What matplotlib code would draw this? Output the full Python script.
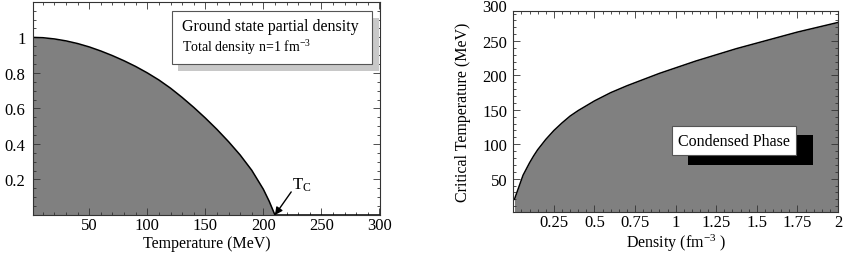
import numpy as np
import matplotlib
matplotlib.use("Agg")
import matplotlib.pyplot as plt
from matplotlib.patches import Rectangle
from matplotlib.ticker import MultipleLocator
import matplotlib.transforms as mtransforms

plt.rcParams['font.family'] = ['Liberation Serif', 'DejaVu Serif']
plt.rcParams['mathtext.fontset'] = 'custom'
plt.rcParams['mathtext.rm'] = 'Liberation Serif'
plt.rcParams['mathtext.it'] = 'Liberation Serif:italic'

# left panel: ground state partial density vs temperature (n = 1 fm^-3)
temperature = [0, 10, 20, 30, 40, 50, 60, 70, 80, 90, 100, 110, 120, 130,
               140, 150, 160, 170, 180, 190, 200, 205, 210]
partial_density = [1.0, 0.998, 0.991, 0.980, 0.965, 0.946, 0.923, 0.897, 0.868,
                   0.836, 0.800, 0.760, 0.714, 0.662, 0.606, 0.546, 0.482,
                   0.413, 0.338, 0.252, 0.145, 0.078, 0.0]
t_ticks = [50, 100, 150, 200, 250, 300]
p_ticks = [0.2, 0.4, 0.6, 0.8, 1.0]
p_tick_labels = ['0.2', '0.4', '0.6', '0.8', '1']
t_crit = 210

# right panel: critical temperature vs density
density = [0.007, 0.06, 0.08, 0.1, 0.125, 0.15, 0.2, 0.25, 0.3, 0.35, 0.4,
           0.5, 0.6, 0.7, 0.8, 0.9, 1.0, 1.125, 1.25, 1.375, 1.5, 1.625,
           1.75, 1.875, 2.0]
crit_temp = [20, 55, 64, 73, 83, 92, 107, 120, 131, 141, 149,
             163, 175, 185, 194, 203, 211, 221, 230, 239, 247, 255,
             263, 270, 277]
n_ticks = [0.25, 0.5, 0.75, 1, 1.25, 1.5, 1.75, 2]
n_tick_labels = ['0.25', '0.5', '0.75', '1', '1.25', '1.5', '1.75', '2']
tc_ticks = [50, 100, 150, 200, 250]

GRAY = '#808080'
FRAME = '#333333'

fig = plt.figure(figsize=(8.44, 2.55), dpi=100)
ax1 = fig.add_axes([0.0391, 0.1529, 0.4111, 0.834])
ax2 = fig.add_axes([0.6082, 0.1659, 0.3847, 0.788])


def style_frame(ax):
    for s in ax.spines.values():
        s.set_color(FRAME)
        s.set_linewidth(0.8)
    ax.tick_params(which='both', direction='in', top=True, right=True,
                   colors=FRAME, labelcolor='black', width=0.6)
    ax.tick_params(which='major', length=5, labelsize=12)
    ax.tick_params(which='minor', length=2.5)


# ---- left panel ----
ax1.fill_between(temperature, partial_density, 0, color=GRAY, lw=0)
ax1.plot(temperature, partial_density, color='black', lw=1.1)
ax1.plot([t_crit, 300], [0, 0], color='black', lw=1.1)
ax1.set_xlim(1.5, 300.5)
ax1.set_ylim(0, 1.197)
ax1.set_xticks(t_ticks)
ax1.set_yticks(p_ticks)
ax1.set_yticklabels(p_tick_labels)
ax1.xaxis.set_minor_locator(MultipleLocator(10))
ax1.yaxis.set_minor_locator(MultipleLocator(0.05))
style_frame(ax1)
ax1.tick_params(axis='x', pad=1.5)
ax1.tick_params(axis='y', pad=5.5)
fig.text(206.5 / 844, 1 - 248 / 255, 'Temperature (MeV)', fontsize=11.5,
         ha='center', va='baseline')

ax1.add_patch(Rectangle((0.418, 0.677), 0.579, 0.249, transform=ax1.transAxes,
                        facecolor='#c8c8c8', edgecolor='none', zorder=4))
ax1.add_patch(Rectangle((0.4006, 0.710), 0.5764, 0.249, transform=ax1.transAxes,
                        facecolor='white', edgecolor='#555555', lw=0.8, zorder=5))
ax1.text(0.4285, 0.871, 'Ground state partial density', transform=ax1.transAxes,
         fontsize=11.5, zorder=6, va='baseline')
ax1.text(0.4285, 0.7725, r'Total density n=1 fm$^{-3}$', transform=ax1.transAxes,
         fontsize=10, zorder=6, va='baseline')

ax1.annotate('', xy=(t_crit, 0), xytext=(224, 0.13),
             arrowprops=dict(arrowstyle='-|>', color='black', lw=1.0,
                             mutation_scale=11, shrinkA=0, shrinkB=0))
ax1.text(225, 0.15, r'T$_\mathrm{C}$', fontsize=12, va='baseline')

# ---- right panel ----
ax2.fill_between(density, crit_temp, 0, color=GRAY, lw=0)
ax2.plot(density, crit_temp, color='black', lw=1.1)
ax2.set_xlim(0, 2)
ax2.set_ylim(2, 294)
ax2.set_xticks(n_ticks)
ax2.set_xticklabels(n_tick_labels)
ax2.set_yticks(tc_ticks)
ax2.xaxis.set_minor_locator(MultipleLocator(0.05))
ax2.yaxis.set_minor_locator(MultipleLocator(10))
style_frame(ax2)
ax2.tick_params(axis='x', pad=1.5)
ax2.tick_params(axis='y', pad=4.5)
trans = mtransforms.blended_transform_factory(ax2.transAxes, ax2.transData)
ax2.text(-0.0203, 300, '300', transform=trans, ha='right', va='center',
         fontsize=12, clip_on=False)
fig.text(676 / 844, 1 - 248 / 255, r'Density (fm$^{-3}$ )', fontsize=11.5,
         ha='center', va='baseline')
ax2.set_ylabel('Critical Temperature (MeV)', fontsize=11.5, labelpad=8)

ax2.add_patch(Rectangle((0.538, 0.2323), 0.385, 0.1493, transform=ax2.transAxes,
                        facecolor='black', edgecolor='none', zorder=4))
ax2.add_patch(Rectangle((0.4888, 0.282), 0.3819, 0.1444, transform=ax2.transAxes,
                        facecolor='white', edgecolor='#555555', lw=0.8, zorder=5))
ax2.text(0.6797, 0.353, 'Condensed Phase', transform=ax2.transAxes,
         ha='center', va='center', fontsize=11.5, zorder=6)

fig.savefig('out.png', dpi=100)
